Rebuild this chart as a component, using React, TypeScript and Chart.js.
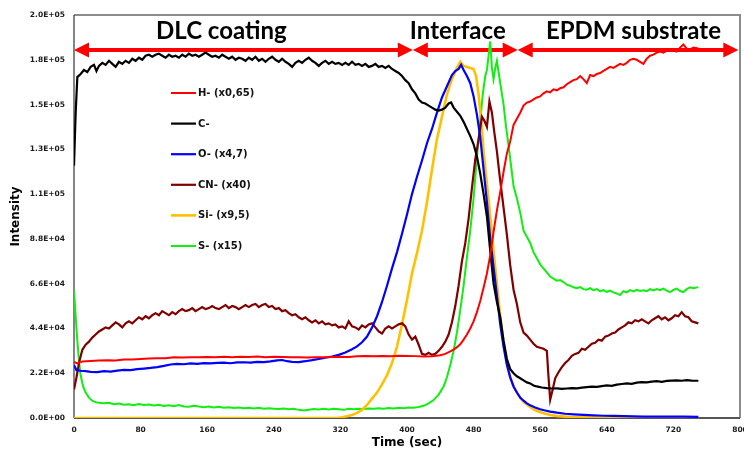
import { useEffect, useRef } from 'react';
import Chart from 'chart.js/auto';

type Pt = [number, number];

// time (sec), intensity
const hMinus: Pt[] = [
  [0, 27500], [4, 26800], [10, 27800], [20, 28000], [30, 28200], [40, 28400], [50, 28300], [60, 28700],
  [70, 28800], [80, 29000], [90, 29200], [100, 29400], [110, 29300], [120, 29800], [130, 29700], [140, 29900],
  [150, 29800], [160, 30000], [170, 29900], [180, 30100], [190, 29900], [200, 30100], [210, 30000], [220, 30200],
  [230, 29900], [240, 30100], [250, 30000], [260, 29800], [270, 29900], [280, 29700], [290, 29900], [300, 29800],
  [310, 30000], [320, 30100], [330, 30000], [340, 30300], [350, 30400], [360, 30300], [370, 30500], [380, 30400],
  [390, 30600], [400, 30500], [410, 30400], [420, 30200], [430, 30300], [440, 30800], [446, 31500], [452, 32700],
  [456, 33600], [460, 34800], [464, 36200], [468, 38500], [472, 41000], [476, 44000], [480, 47500], [484, 52000],
  [488, 57500], [492, 64000], [496, 71000], [500, 80000], [504, 91500], [508, 102000], [512, 111000], [516, 121000],
  [520, 130000], [524, 136000], [528, 144000], [532, 147000], [536, 150000], [540, 153500], [544, 155000], [548, 155500],
  [552, 156500], [556, 157500], [560, 158000], [564, 159500], [568, 160500], [572, 160000], [576, 161500], [580, 161000],
  [584, 162000], [588, 162500], [592, 164000], [596, 165000], [600, 166000], [604, 166500], [608, 168000], [612, 166500],
  [616, 164500], [620, 168500], [624, 168000], [628, 169000], [632, 169500], [636, 170500], [640, 171500], [644, 172500],
  [648, 172000], [652, 173000], [656, 174000], [660, 173500], [664, 174500], [668, 176000], [672, 176500], [676, 176000],
  [680, 175000], [684, 174000], [688, 176500], [692, 178000], [696, 178500], [700, 179500], [704, 180000], [708, 179500],
  [712, 180500], [716, 181000], [720, 180500], [724, 180000], [728, 182000], [732, 183500], [736, 181500], [740, 181000],
  [744, 182000], [750, 181500],
];

const cMinus: Pt[] = [
  [0, 124000], [2, 150000], [4, 167500], [8, 169000], [12, 171000], [16, 170000], [20, 172500], [24, 173500],
  [27, 170500], [30, 173000], [34, 174500], [38, 173500], [42, 175500], [46, 174000], [50, 172500], [54, 175000],
  [58, 174000], [62, 175500], [66, 174500], [70, 176500], [74, 175500], [78, 177000], [82, 176000], [86, 178000],
  [90, 178500], [94, 177500], [98, 178500], [102, 179000], [106, 178000], [110, 177000], [114, 178500], [118, 177500],
  [122, 178000], [126, 177000], [130, 178500], [134, 177500], [138, 179000], [142, 178000], [146, 178500], [150, 177500],
  [154, 178500], [158, 179500], [162, 178500], [166, 177500], [170, 178000], [174, 177000], [178, 178500], [182, 177500],
  [186, 176500], [190, 177500], [194, 176000], [198, 177000], [202, 176500], [206, 175500], [210, 177000], [214, 176000],
  [218, 177500], [222, 175500], [226, 176500], [230, 175000], [234, 176500], [238, 177500], [242, 176000], [246, 175000],
  [250, 176500], [254, 175000], [258, 174000], [262, 172500], [266, 174500], [270, 175500], [274, 174500], [278, 176000],
  [282, 177000], [286, 175500], [290, 174500], [294, 173000], [298, 174500], [302, 175500], [306, 174000], [310, 175000],
  [314, 174000], [318, 174500], [322, 173500], [326, 174500], [330, 173500], [334, 175000], [338, 173500], [342, 174000],
  [346, 173000], [350, 174000], [354, 172500], [358, 173000], [362, 174000], [366, 172500], [370, 173000], [374, 172000],
  [378, 173000], [382, 171500], [386, 170500], [390, 169500], [394, 168000], [398, 166000], [402, 164500], [406, 161500],
  [410, 159500], [414, 156500], [418, 155000], [422, 154500], [426, 153500], [430, 152500], [434, 151500], [438, 151000],
  [442, 151500], [446, 152500], [450, 154500], [453, 155000], [456, 152500], [460, 150500], [464, 148500], [468, 145500],
  [472, 142000], [476, 138500], [480, 134500], [484, 128500], [488, 120000], [492, 110000], [496, 99000], [500, 82000],
  [504, 66000], [508, 57000], [512, 49500], [516, 38000], [520, 29000], [524, 24000], [528, 22000], [532, 20500],
  [536, 19500], [540, 18500], [544, 17500], [548, 17000], [552, 16000], [556, 15500], [562, 15000], [568, 14700],
  [574, 14500], [580, 14600], [586, 14300], [592, 14500], [598, 14700], [604, 14600], [610, 14900], [616, 15200],
  [622, 15400], [628, 15300], [634, 15700], [640, 16000], [646, 15800], [652, 16400], [658, 16700], [664, 17000],
  [670, 16800], [676, 17400], [682, 17600], [688, 17500], [694, 17900], [700, 18100], [706, 17800], [712, 18200],
  [718, 18400], [724, 18500], [730, 18300], [736, 18600], [742, 18400], [750, 18300],
];

const oMinus: Pt[] = [
  [0, 26000], [3, 23500], [8, 23200], [14, 23000], [20, 22700], [28, 22500], [36, 23000], [44, 22800],
  [52, 23300], [60, 23600], [68, 23500], [76, 24000], [84, 24300], [92, 24600], [100, 25000], [108, 25600],
  [116, 26300], [124, 26600], [132, 26400], [140, 26800], [148, 26600], [156, 27000], [164, 26800], [172, 27100],
  [180, 27200], [188, 26900], [196, 27300], [204, 27400], [212, 27200], [220, 27600], [228, 27500], [236, 27800],
  [244, 28300], [250, 28500], [256, 27900], [262, 27600], [270, 27500], [278, 27900], [286, 28400], [294, 29000],
  [302, 29600], [310, 30200], [318, 31000], [326, 32200], [334, 33800], [340, 35200], [346, 37200], [352, 40000],
  [358, 44500], [364, 50000], [370, 57000], [376, 65000], [382, 73500], [388, 81500], [394, 90500], [400, 100000],
  [406, 110000], [412, 118500], [418, 126500], [424, 135000], [430, 142000], [436, 150000], [442, 157500], [448, 163000],
  [454, 168500], [458, 170500], [462, 171500], [465, 173500], [468, 171000], [472, 168000], [476, 164500], [480, 158000],
  [484, 149000], [488, 138000], [492, 122000], [496, 106000], [500, 88000], [504, 74000], [508, 60000], [512, 46000],
  [516, 35000], [520, 26000], [524, 20000], [528, 15500], [532, 12500], [536, 10000], [540, 8500], [544, 7200],
  [548, 6200], [554, 5200], [560, 4300], [566, 3700], [572, 3100], [580, 2600], [590, 2100], [600, 1800],
  [612, 1500], [624, 1300], [636, 1100], [648, 1000], [660, 900], [672, 800], [684, 700], [700, 700],
  [716, 650], [732, 650], [750, 600],
];

const cnMinus: Pt[] = [
  [0, 14000], [3, 20000], [6, 27000], [10, 33500], [14, 36000], [18, 37500], [22, 39500], [26, 41000],
  [30, 42500], [34, 43500], [38, 44500], [42, 44000], [46, 45500], [50, 47000], [54, 46000], [58, 44500],
  [62, 46500], [66, 47500], [70, 46500], [74, 48000], [78, 49500], [82, 48500], [86, 50000], [90, 49000],
  [94, 50500], [98, 51500], [102, 50500], [106, 52500], [110, 51500], [114, 50500], [118, 52000], [122, 51000],
  [126, 52500], [130, 53500], [134, 52500], [138, 53000], [142, 54000], [146, 52500], [150, 53500], [154, 54500],
  [158, 53500], [162, 54000], [166, 55000], [170, 54000], [174, 53500], [178, 54500], [182, 55500], [186, 54000],
  [190, 55000], [194, 54500], [198, 53500], [202, 54500], [206, 55500], [210, 54500], [214, 55500], [218, 56000],
  [222, 54500], [226, 55500], [230, 56000], [234, 54500], [238, 55000], [242, 53500], [246, 54000], [250, 52500],
  [254, 53000], [258, 51500], [262, 50500], [266, 51000], [270, 49500], [274, 48500], [278, 49500], [282, 48000],
  [286, 47000], [290, 48000], [294, 46500], [298, 47500], [302, 46000], [306, 46500], [310, 45500], [314, 46000],
  [318, 44500], [322, 45000], [326, 44000], [330, 47500], [334, 45000], [338, 44500], [342, 43500], [346, 45500],
  [350, 44500], [354, 46000], [358, 46500], [362, 44500], [366, 42500], [370, 41500], [374, 44000], [378, 45000],
  [382, 44000], [386, 45000], [390, 46000], [394, 46500], [398, 45000], [402, 41000], [406, 38500], [410, 40000],
  [414, 36000], [418, 31500], [422, 31000], [426, 32000], [430, 31000], [434, 31500], [438, 33000], [442, 35000],
  [446, 37500], [450, 41000], [454, 47000], [458, 55000], [462, 65000], [466, 77000], [470, 86000], [474, 98000],
  [478, 113000], [482, 127000], [486, 137000], [490, 148000], [493, 146000], [496, 143000], [499, 155500], [502, 150000],
  [505, 140000], [508, 131000], [511, 120000], [514, 110000], [517, 100000], [520, 90000], [524, 75000], [528, 63000],
  [532, 56000], [536, 47000], [540, 42000], [544, 40500], [548, 38500], [552, 36500], [556, 35000], [560, 34500],
  [564, 34000], [568, 33000], [570, 20000], [572, 9000], [575, 14000], [578, 19500], [582, 22500], [586, 25000],
  [590, 27000], [594, 28500], [598, 30500], [602, 31500], [606, 32000], [610, 34000], [614, 33500], [618, 35000],
  [622, 36500], [626, 37000], [630, 38500], [634, 38000], [638, 40000], [642, 40500], [646, 41500], [650, 42000],
  [654, 43500], [658, 44500], [662, 45500], [666, 47000], [670, 46500], [674, 48000], [678, 47500], [682, 48500],
  [686, 47500], [690, 46500], [694, 48000], [698, 49000], [702, 50000], [706, 48500], [710, 49500], [714, 48000],
  [718, 49000], [722, 50500], [726, 50000], [730, 52000], [734, 50000], [738, 49500], [742, 47500], [746, 47000],
  [750, 46500],
];

const siMinus: Pt[] = [
  [0, 0], [100, 0], [200, 0], [300, 0], [316, 0], [322, 400], [328, 900], [334, 1500],
  [340, 2500], [346, 4000], [352, 6400], [358, 9500], [364, 12500], [370, 16500], [376, 21000], [382, 27000],
  [388, 35000], [394, 46000], [400, 58000], [406, 71000], [412, 81000], [418, 92000], [424, 106000], [430, 122000],
  [436, 137000], [442, 148000], [448, 159000], [454, 166500], [460, 172000], [464, 175000], [468, 173000], [472, 172500],
  [476, 172000], [480, 171500], [483, 168000], [486, 159000], [489, 147000], [492, 131000], [496, 115000], [500, 99000],
  [504, 82000], [508, 66000], [512, 50000], [516, 37000], [520, 27000], [524, 20000], [528, 15500], [532, 12500],
  [536, 9800], [540, 8000], [546, 6000], [552, 4300], [558, 3200], [564, 2300], [572, 1500], [582, 900],
  [596, 500], [612, 300], [630, 100], [660, 0], [750, 0],
];

const sMinus: Pt[] = [
  [0, 63000], [2, 50000], [4, 38000], [6, 28000], [8, 21000], [11, 15500], [14, 12500], [18, 10000],
  [22, 8500], [26, 7800], [30, 7500], [36, 7200], [42, 7500], [48, 6800], [54, 7100], [60, 6500],
  [66, 6800], [72, 6300], [78, 6900], [84, 6400], [90, 6600], [96, 6100], [102, 6500], [108, 5900],
  [114, 6200], [120, 5800], [126, 6400], [132, 5700], [138, 5500], [144, 6000], [150, 5600], [156, 5300],
  [162, 5700], [168, 5200], [174, 5500], [180, 5000], [186, 5300], [192, 4900], [198, 5200], [204, 4800],
  [210, 5000], [216, 4700], [222, 5000], [228, 4500], [234, 4800], [240, 4600], [246, 4400], [252, 4700],
  [258, 4300], [264, 4500], [270, 4000], [276, 3700], [282, 4100], [288, 4400], [294, 4200], [300, 4500],
  [306, 4200], [312, 4500], [318, 4300], [324, 4000], [330, 4500], [336, 4300], [342, 4600], [348, 4400],
  [354, 4700], [360, 4500], [366, 4800], [372, 4600], [378, 4900], [384, 4700], [390, 5000], [396, 4800],
  [402, 5100], [408, 5000], [414, 5400], [420, 6000], [426, 7200], [432, 8800], [438, 11500], [444, 15500],
  [448, 20000], [452, 26000], [456, 33000], [460, 42000], [464, 53000], [468, 65000], [472, 79000], [476, 92000],
  [480, 108000], [484, 128000], [488, 146000], [491, 159000], [494, 168000], [496, 171000], [498, 178000], [500, 185000],
  [502, 172000], [504, 166500], [506, 172000], [508, 175500], [510, 170000], [513, 162000], [516, 154000], [519, 143000],
  [522, 134000], [525, 124000], [528, 114000], [532, 108000], [536, 101000], [540, 92000], [544, 89000], [548, 86000],
  [552, 81500], [556, 78500], [560, 75500], [564, 73500], [568, 71500], [572, 69500], [576, 68500], [580, 67500],
  [584, 67800], [588, 66800], [592, 65500], [596, 65000], [600, 64200], [604, 63800], [608, 64300], [612, 63300],
  [616, 63000], [620, 63800], [624, 62800], [628, 63300], [632, 62300], [636, 62800], [640, 62000], [644, 62600],
  [648, 61700], [652, 61200], [656, 60400], [660, 62300], [664, 61700], [668, 62800], [672, 62200], [676, 63000],
  [680, 62400], [684, 62800], [688, 62300], [692, 63300], [696, 62700], [700, 63400], [704, 62800], [708, 63600],
  [712, 62600], [716, 61800], [720, 62900], [724, 63600], [728, 62400], [732, 61900], [736, 63300], [740, 64200],
  [744, 63800], [750, 64300],
];

const seriesLabels = ['H- (x0,65)', 'C-', 'O- (x4,7)', 'CN- (x40)', 'Si- (x9,5)', 'S- (x15)'];
const seriesData = [hMinus, cMinus, oMinus, cnMinus, siMinus, sMinus];
const seriesColors = ['#ff0000', '#000000', '#0000ff', '#800000', '#ffc000', '#11ee11'];
const seriesWidths = [2, 2.2, 2.2, 2.2, 2.6, 2];

const sectionNames = ['DLC coating', 'Interface', 'EPDM substrate'];
const sectionFrom = [0, 407, 533];
const sectionTo = [407, 533, 798];
const sectionTextAt = [177, 461, 672];

function sci(v: number) {
  const [m, e] = v.toExponential(1).split('e');
  const n = Number(e);
  return `${m}E${n < 0 ? '-' : '+'}${String(Math.abs(n)).padStart(2, '0')}`;
}

function drawArrow(ctx: CanvasRenderingContext2D, x1: number, x2: number, y: number) {
  const hl = 15;
  const hw = 7.5;
  const sw = 2;
  ctx.beginPath();
  ctx.moveTo(x1, y);
  ctx.lineTo(x1 + hl, y - hw);
  ctx.lineTo(x1 + hl, y - sw);
  ctx.lineTo(x2 - hl, y - sw);
  ctx.lineTo(x2 - hl, y - hw);
  ctx.lineTo(x2, y);
  ctx.lineTo(x2 - hl, y + hw);
  ctx.lineTo(x2 - hl, y + sw);
  ctx.lineTo(x1 + hl, y + sw);
  ctx.lineTo(x1 + hl, y + hw);
  ctx.closePath();
  ctx.fill();
}

const overlay = {
  id: 'overlay',
  beforeDatasetsDraw(chart: Chart) {
    const { ctx, chartArea: a, scales } = chart;
    const x = scales.x;
    ctx.save();
    ctx.lineWidth = 2;
    ctx.strokeStyle = '#8c8c8c';
    ctx.beginPath();
    ctx.moveTo(a.left, a.top);
    ctx.lineTo(a.right, a.top);
    ctx.lineTo(a.right, a.bottom);
    ctx.stroke();
    ctx.strokeStyle = '#555555';
    ctx.beginPath();
    ctx.moveTo(a.left, a.bottom);
    ctx.lineTo(a.right, a.bottom);
    ctx.stroke();
    ctx.lineWidth = 1.2;
    ctx.strokeStyle = '#333333';
    ctx.beginPath();
    ctx.moveTo(a.left, a.top);
    ctx.lineTo(a.left, a.bottom);
    ctx.stroke();
    // section arrows sit under the curves
    ctx.fillStyle = '#ff0000';
    sectionNames.forEach((_, i) => {
      drawArrow(ctx, x.getPixelForValue(sectionFrom[i]), x.getPixelForValue(sectionTo[i]), a.top + 35);
    });
    ctx.restore();
  },
  afterDatasetsDraw(chart: Chart) {
    const { ctx, chartArea: a, scales } = chart;
    const x = scales.x;
    ctx.save();
    ctx.fillStyle = '#000000';
    ctx.font = 'bold 24px Lato';
    ctx.textAlign = 'center';
    ctx.textBaseline = 'alphabetic';
    sectionNames.forEach((name, i) => {
      ctx.fillText(name, x.getPixelForValue(sectionTextAt[i]), a.top + 24);
    });
    // legend inside the plot
    ctx.font = 'bold 10px "DejaVu Sans"';
    ctx.textAlign = 'left';
    ctx.textBaseline = 'middle';
    chart.data.datasets.forEach((ds: any, i: number) => {
      const y = a.top + 78 + i * 30.6;
      const lx = a.left + 97;
      ctx.strokeStyle = ds.borderColor;
      ctx.lineWidth = ds.borderWidth;
      ctx.beginPath();
      ctx.moveTo(lx, y);
      ctx.lineTo(lx + 25, y);
      ctx.stroke();
      ctx.fillStyle = '#111111';
      ctx.fillText(ds.label, lx + 27, y + 0.5);
    });
    ctx.restore();
  },
};

export default function App() {
  const canvasRef = useRef<HTMLCanvasElement | null>(null);

  useEffect(() => {
    document.body.style.margin = '0';
    const chartInstance = new Chart(canvasRef.current!, {
      type: 'line',
      data: {
        datasets: seriesData.map((pts, i) => ({
          label: seriesLabels[i],
          data: pts,
          borderColor: seriesColors[i],
          borderWidth: seriesWidths[i],
          pointRadius: 0,
          tension: 0,
          fill: false,
        })),
      },
      options: {
        responsive: true,
        maintainAspectRatio: false,
        animation: false,
        layout: { padding: { top: 15, right: 4, left: 0, bottom: 0 } },
        plugins: {
          legend: { display: false },
          tooltip: { enabled: false },
        },
        scales: {
          x: {
            type: 'linear',
            min: 0,
            max: 800,
            grid: { display: false, drawTicks: false },
            border: { display: false },
            ticks: {
              stepSize: 80,
              padding: 8,
              maxRotation: 0,
              color: '#1a1a1a',
              font: { family: '"DejaVu Sans"', weight: 'bold', size: 7.5 },
            },
            title: {
              display: true,
              text: 'Time (sec)',
              color: '#000000',
              padding: { top: 0, bottom: 3 },
              font: { family: '"DejaVu Sans"', weight: 'bold', size: 12 },
            },
            afterFit(scale: any) {
              scale.height = 35;
              scale.paddingLeft = 0;
              scale.paddingRight = 0;
            },
          },
          y: {
            min: 0,
            max: 198000,
            grid: { display: false, drawTicks: false },
            border: { display: false },
            ticks: {
              stepSize: 22000,
              padding: 9,
              color: '#1a1a1a',
              font: { family: '"DejaVu Sans"', weight: 'bold', size: 7.5 },
              callback: (v: any) => sci(Number(v)),
            },
            title: {
              display: true,
              text: 'Intensity',
              color: '#000000',
              padding: { top: 9, bottom: 0 },
              font: { family: '"DejaVu Sans"', weight: 'bold', size: 12 },
            },
            afterFit(scale: any) {
              scale.width = 74;
            },
          },
        },
      },
      plugins: [overlay],
    });
    return () => chartInstance.destroy();
  }, []);

  return (
    <div style={{ width: 744, height: 453, position: 'relative', background: '#ffffff' }}>
      <canvas ref={canvasRef}></canvas>
    </div>
  );
}
